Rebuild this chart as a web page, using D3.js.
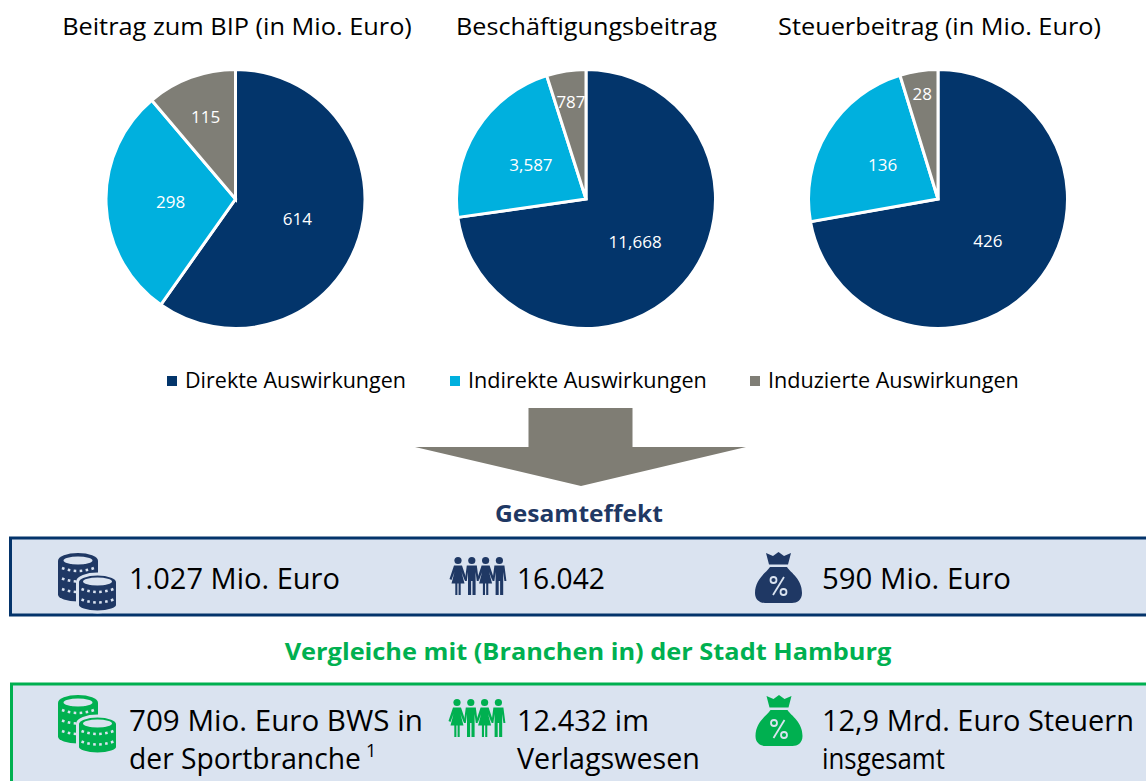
<!DOCTYPE html>
<html><head><meta charset="utf-8">
<script src="https://cdn.jsdelivr.net/npm/d3@7"></script>
<style>html,body{margin:0;padding:0;background:#fff;overflow:hidden}svg{display:block}text{font-family:"Open Sans",sans-serif}</style>
</head><body><svg id="c" width="1146" height="781"></svg>
<script>
const categories = ["Direkte Auswirkungen","Indirekte Auswirkungen","Induzierte Auswirkungen"];
const colors = ["#03356b","#00b0de","#7f7e76"];
const pieTitles = ["Beitrag zum BIP (in Mio. Euro)","Beschäftigungsbeitrag","Steuerbeitrag (in Mio. Euro)"];
const bipValues = [614,298,115];
const jobValues = [11668,3587,787];
const taxValues = [426,136,28];
const series = [bipValues,jobValues,taxValues];
const totalHeading = "Gesamteffekt";
const totalTexts = ["1.027 Mio. Euro","16.042","590 Mio. Euro"];
const compareHeading = "Vergleiche mit (Branchen in) der Stadt Hamburg";
const compareTexts = [["709 Mio. Euro BWS in","der Sportbranche"],["12.432 im","Verlagswesen"],["12,9 Mrd. Euro Steuern","insgesamt"]];

const svg = d3.select("#c");
const NAVY="#1f3864", GREEN="#00b050", BORDER="#04346b", BOX="#dae3f0";
const cx=[235.5,586,938], cy=199, R=129.5;
const titleX=[237,586.5,939.5];
const titleW=[350,261,323];
const labelR=[[65,65,87],[65,65,98],[65,65,106]];
const fmt=d3.format(",");
const pie=d3.pie().sort(null).value(d=>d);
const arc=d3.arc().innerRadius(0).outerRadius(R);

// squeeze a text horizontally to the reference's width, keeping its anchor in place
function fit(sel,w){
  const n=sel.node().getComputedTextLength(), x=+sel.attr("x");
  sel.attr("transform",`translate(${x},0) scale(${w/n},1) translate(${-x},0)`);
  return sel;
}

series.forEach((vals,i)=>{
  const g=svg.append("g").attr("transform",`translate(${cx[i]},${cy})`);
  g.selectAll("path").data(pie(vals)).join("path")
    .attr("d",arc).attr("fill",(d,j)=>colors[j]).attr("stroke","#fff").attr("stroke-width",3);
  g.selectAll("text").data(pie(vals)).join("text")
    .attr("transform",(d,j)=>{
      const r=labelR[i][j];
      return `translate(${d3.arc().innerRadius(r).outerRadius(r).centroid(d)})`;
    })
    .attr("text-anchor","middle").attr("dy","0.36em")
    .attr("fill","#fff").attr("font-size",17).text(d=>fmt(d.value));
  fit(svg.append("text").attr("x",titleX[i]).attr("y",35).attr("text-anchor","middle")
    .attr("font-size",24.5).attr("fill","#000").text(pieTitles[i]),titleW[i]);
});

// legend
const legX=d3.scaleOrdinal().domain(categories).range([167,450,750]);
const legW=[221,239,251];
categories.forEach((c,i)=>{
  svg.append("rect").attr("x",legX(c)).attr("y",376).attr("width",10).attr("height",10).attr("fill",colors[i]);
  fit(svg.append("text").attr("x",legX(c)+18).attr("y",388.5).attr("font-size",21).attr("fill","#000").text(c),legW[i]);
});

// arrow
svg.append("path").attr("d","M528.5,408H632.5V447H746L581,486L415,447H528.5Z").attr("fill","#7f7d74");

// headings
fit(svg.append("text").attr("x",579).attr("y",522).attr("text-anchor","middle").attr("font-size",24)
  .attr("font-weight",700).attr("fill",NAVY).text(totalHeading),168);
fit(svg.append("text").attr("x",588).attr("y",660).attr("text-anchor","middle").attr("font-size",24)
  .attr("font-weight",700).attr("fill",GREEN).text(compareHeading),607);

// boxes
svg.append("rect").attr("x",10.5).attr("y",538).attr("width",1150).attr("height",77)
  .attr("fill",BOX).attr("stroke",BORDER).attr("stroke-width",3);
svg.append("rect").attr("x",11.5).attr("y",684).attr("width",1150).attr("height",110)
  .attr("fill",BOX).attr("stroke",GREEN).attr("stroke-width",3);

// icons
function coinStack(g,cx,top,n,col,halo){
  const s=g.append("g");
  const W=20, step=10.5;
  const h=17+n*step;
  const body=`M${cx-W},${top+8}A${W},8 0 0 1 ${cx+W},${top+8}V${top+h-7}A${W},7 0 0 1 ${cx-W},${top+h-7}Z`;
  if(halo) s.append("path").attr("d",body).attr("fill",col).attr("stroke",BOX).attr("stroke-width",3);
  else s.append("path").attr("d",body).attr("fill",col);
  s.append("ellipse").attr("cx",cx).attr("cy",top+7.5).attr("rx",W-5.5).attr("ry",4).attr("fill",BOX);
  for(let k=0;k<n;k++){
    const yy=top+14+k*step;
    s.append("path").attr("d",`M${cx-W+4},${yy+1}Q${cx},${yy+7} ${cx+W-4},${yy+1}`)
      .attr("fill","none").attr("stroke",BOX).attr("stroke-width",2.6).attr("stroke-dasharray","2.6 3.4");
  }
}
function coins(x,y,col){
  const g=svg.append("g").attr("transform",`translate(${x},${y})`);
  coinStack(g,20,0,3,col,false);
  coinStack(g,39.5,21,2,col,true);
}
function people(x,y,col){
  const g=svg.append("g").attr("transform",`translate(${x},${y})`);
  [0,1,2,3].forEach(i=>{
    const p=g.append("g").attr("transform",`translate(${7+i*13.8},0)`);
    p.append("circle").attr("cx",0).attr("cy",3.5).attr("r",3.6).attr("fill",col);
    if(i%2===0){
      p.append("path").attr("d","M-4,8.5H4L8.5,22L6.5,23L3.5,15L6.5,26.5H2.7V38H.6V26.5H-.6V38H-2.7V26.5H-6.5L-3.5,15L-6.5,23L-8.5,22Z").attr("fill",col);
    }else{
      p.append("path").attr("d","M-5,8.5H5L7,24H5L3.8,15V38H.7V24H-.7V38H-3.8V15L-5,24H-7Z").attr("fill",col);
    }
  });
}
function bag(x,y,col){
  const g=svg.append("g").attr("transform",`translate(${x},${y})`);
  g.append("path").attr("d","M11,1L18,4L23.5,0L29,4L36,1L33,12.5H14Z").attr("fill",col);
  g.append("path").attr("d","M15,15H32C36,21 47,27 47,41C47,48 42,51 37,51H10C5,51 0,48 0,41C0,27 11,21 15,15Z").attr("fill",col);
  const t=g.append("g").attr("stroke",BOX).attr("fill","none").attr("stroke-width",1.8);
  t.append("line").attr("x1",18).attr("y1",43).attr("x2",29).attr("y2",25);
  t.append("circle").attr("cx",18.5).attr("cy",28).attr("r",3);
  t.append("circle").attr("cx",28.5).attr("cy",40).attr("r",3);
}
coins(58,553,NAVY); people(451,557,NAVY); bag(755,552,NAVY);
coins(58,695,GREEN); people(450,699,GREEN); bag(755.5,695,GREEN);

// box texts
const tx=[129,517,822];
const totalW=[211,88,189];
totalTexts.forEach((t,i)=>fit(svg.append("text").attr("x",tx[i]).attr("y",589).attr("font-size",30).attr("fill","#000").text(t),totalW[i]));
const compW=[[294,232],[132,183],[312,123]];
compareTexts.forEach((ls,i)=>ls.forEach((t,k)=>{
  fit(svg.append("text").attr("x",tx[i]).attr("y",731+k*38).attr("font-size",30).attr("fill","#000").text(t),compW[i][k]);
}));
svg.append("text").attr("x",366).attr("y",757).attr("font-size",18).attr("fill","#000").text("1");
</script></body></html>
